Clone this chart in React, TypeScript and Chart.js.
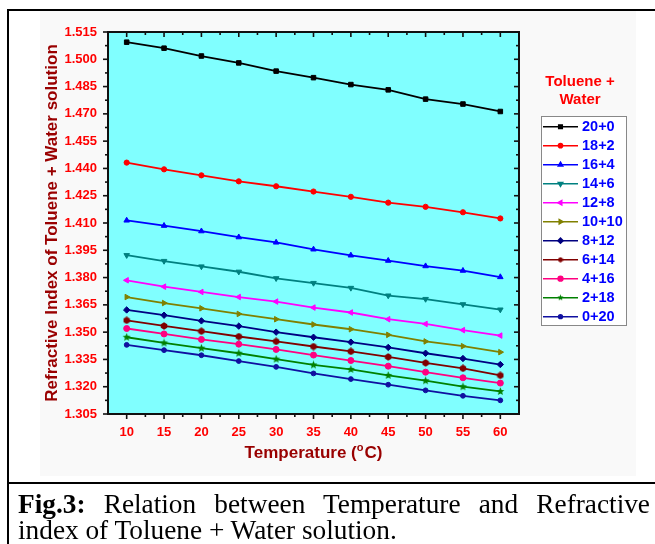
import React, { useEffect, useRef } from 'react';
import { Chart, registerables } from 'chart.js';
import { drawPoint } from 'chart.js/helpers';

Chart.register(...registerables);

// ---------- data ----------
const temperatures = [10, 15, 20, 25, 30, 35, 40, 45, 50, 55, 60];
const seriesNames = ['20+0', '18+2', '16+4', '14+6', '12+8', '10+10', '8+12', '6+14', '4+16', '2+18', '0+20'];

const ri_20_0 = [1.5094, 1.5061, 1.5018, 1.4980, 1.4935, 1.4899, 1.4861, 1.4832, 1.4781, 1.4754, 1.4713];
const ri_18_2 = [1.4432, 1.4395, 1.4362, 1.4329, 1.4302, 1.4273, 1.4244, 1.4212, 1.4189, 1.4159, 1.4125];
const ri_16_4 = [1.4114, 1.4085, 1.4055, 1.4022, 1.3993, 1.3955, 1.3922, 1.3893, 1.3863, 1.3838, 1.3803];
const ri_14_6 = [1.3923, 1.3891, 1.3861, 1.3832, 1.3796, 1.3770, 1.3743, 1.3701, 1.3682, 1.3653, 1.3624];
const ri_12_8 = [1.3785, 1.3750, 1.3721, 1.3693, 1.3668, 1.3635, 1.3608, 1.3571, 1.3545, 1.3511, 1.3481];
const ri_10_10 = [1.3693, 1.3660, 1.3631, 1.3600, 1.3571, 1.3542, 1.3516, 1.3485, 1.3449, 1.3423, 1.3390];
const ri_8_12 = [1.3622, 1.3593, 1.3562, 1.3533, 1.3500, 1.3472, 1.3445, 1.3416, 1.3384, 1.3355, 1.3322];
const ri_6_14 = [1.3565, 1.3534, 1.3505, 1.3476, 1.3449, 1.3421, 1.3394, 1.3364, 1.3331, 1.3301, 1.3262];
const ri_4_16 = [1.3520, 1.3490, 1.3460, 1.3434, 1.3405, 1.3374, 1.3344, 1.3313, 1.3280, 1.3249, 1.3220];
const ri_2_18 = [1.3472, 1.3441, 1.3412, 1.3384, 1.3352, 1.3320, 1.3295, 1.3262, 1.3233, 1.3200, 1.3174];
const ri_0_20 = [1.3430, 1.3401, 1.3373, 1.3341, 1.3309, 1.3273, 1.3242, 1.3211, 1.3180, 1.3150, 1.3125];

const seriesValues = [ri_20_0, ri_18_2, ri_16_4, ri_14_6, ri_12_8, ri_10_10, ri_8_12, ri_6_14, ri_4_16, ri_2_18, ri_0_20];

const xTickValues = [10, 15, 20, 25, 30, 35, 40, 45, 50, 55, 60];
const yTickValues = [1.305, 1.32, 1.335, 1.35, 1.365, 1.38, 1.395, 1.41, 1.425, 1.44, 1.455, 1.47, 1.485, 1.5, 1.515];

// ---------- styles ----------
const seriesColors = ['#000000', '#ff0000', '#0000ff', '#008080', '#ff00ff', '#808000', '#000080', '#800000', '#ff0080', '#008000', '#1010a0'];
const markerKinds = ['rect', 'circle', 'triUp', 'triDown', 'triLeft', 'triRight', 'diamond', 'hex', 'circleBig', 'star', 'circleSmall'];

const SANS = '"Liberation Sans", Arial, Helvetica, sans-serif';

function makeShape(color: string, kind: string, size: number) {
  const c = document.createElement('canvas');
  c.width = size;
  c.height = size;
  const g = c.getContext('2d')!;
  g.fillStyle = color;
  const cx = size / 2;
  const r = size / 2 - 0.3;
  g.beginPath();
  if (kind === 'hex') {
    for (let i = 0; i < 6; i++) {
      const a = (Math.PI / 3) * i + Math.PI / 6;
      const px = cx + r * Math.cos(a);
      const py = cx + r * Math.sin(a);
      if (i === 0) g.moveTo(px, py); else g.lineTo(px, py);
    }
  } else {
    for (let i = 0; i < 10; i++) {
      const a = (Math.PI / 5) * i - Math.PI / 2;
      const rr = i % 2 === 0 ? r : r * 0.45;
      const px = cx + rr * Math.cos(a);
      const py = cx + rr * Math.sin(a);
      if (i === 0) g.moveTo(px, py); else g.lineTo(px, py);
    }
  }
  g.closePath();
  g.fill();
  return c;
}

function markerFor(kind: string, color: string, scale: number) {
  switch (kind) {
    case 'rect': return { style: 'rect' as any, r: 3.2 * scale, rot: 0 };
    case 'circle': return { style: 'circle' as any, r: 2.6 * scale, rot: 0 };
    case 'triUp': return { style: 'triangle' as any, r: 3.2 * scale, rot: 0 };
    case 'triDown': return { style: 'triangle' as any, r: 3.2 * scale, rot: 180 };
    case 'triLeft': return { style: 'triangle' as any, r: 3.2 * scale, rot: -90 };
    case 'triRight': return { style: 'triangle' as any, r: 3.2 * scale, rot: 90 };
    case 'diamond': return { style: 'rectRot' as any, r: 3.2 * scale, rot: 0 };
    case 'hex': return { style: makeShape(color, 'hex', Math.round(8 * scale)) as any, r: 3 * scale, rot: 0 };
    case 'circleBig': return { style: 'circle' as any, r: 3 * scale, rot: 0 };
    case 'star': return { style: makeShape(color, 'star', Math.round(9 * scale)) as any, r: 3 * scale, rot: 0 };
    default: return { style: 'circle' as any, r: 2.4 * scale, rot: 0 };
  }
}

export default function App() {
  const canvasRef = useRef<HTMLCanvasElement | null>(null);

  useEffect(() => {
    document.body.style.margin = '0';
    const canvas = canvasRef.current!;

    const datasets = seriesNames.map((name, i) => {
      const m = markerFor(markerKinds[i], seriesColors[i], 1);
      return {
        label: name,
        data: temperatures.map((t, j) => ({ x: t, y: seriesValues[i][j] })),
        borderColor: seriesColors[i],
        backgroundColor: seriesColors[i],
        borderWidth: 1.8,
        pointStyle: m.style,
        pointRadius: m.r,
        pointRotation: m.rot,
        pointBorderWidth: 1,
        pointBorderColor: seriesColors[i],
        pointBackgroundColor: seriesColors[i],
        tension: 0,
      };
    });

    const framePlugin = {
      id: 'frame',
      beforeDraw(chart: any) {
        const { ctx, chartArea: a } = chart;
        ctx.save();
        ctx.fillStyle = '#80ffff';
        ctx.fillRect(a.left, a.top, a.right - a.left, a.bottom - a.top);
        ctx.restore();
      },
      afterDraw(chart: any) {
        const { ctx, chartArea: a } = chart;
        const xs = chart.scales.x;
        const ys = chart.scales.y;
        ctx.save();
        // border
        ctx.strokeStyle = '#111';
        ctx.lineWidth = 2;
        ctx.strokeRect(a.left, a.top, a.right - a.left, a.bottom - a.top);
        // ticks
        ctx.lineWidth = 1.6;
        const major = 5;
        const minor = 3;
        const line = (x1: number, y1: number, x2: number, y2: number) => {
          ctx.beginPath();
          ctx.moveTo(x1, y1);
          ctx.lineTo(x2, y2);
          ctx.stroke();
        };
        const xMinor: number[] = [];
        for (let i = 0; i < xTickValues.length - 1; i++) xMinor.push((xTickValues[i] + xTickValues[i + 1]) / 2);
        const yMinor: number[] = [];
        for (let i = 0; i < yTickValues.length - 1; i++) yMinor.push((yTickValues[i] + yTickValues[i + 1]) / 2);
        xTickValues.forEach((v) => {
          const px = xs.getPixelForValue(v);
          line(px, a.bottom, px, a.bottom + major);
          line(px, a.top, px, a.top + major);
        });
        xMinor.forEach((v) => {
          const px = xs.getPixelForValue(v);
          line(px, a.bottom, px, a.bottom + minor);
          line(px, a.top, px, a.top + minor);
        });
        yTickValues.forEach((v) => {
          const py = ys.getPixelForValue(v);
          line(a.left - major, py, a.left, py);
          line(a.right - major, py, a.right, py);
        });
        yMinor.forEach((v) => {
          const py = ys.getPixelForValue(v);
          line(a.left - minor, py, a.left, py);
          line(a.right - minor, py, a.right, py);
        });

        // axis titles
        ctx.fillStyle = '#990000';
        ctx.textBaseline = 'alphabetic';
        ctx.textAlign = 'left';
        const mainFont = `bold 17px ${SANS}`;
        const supFont = `bold 11px ${SANS}`;
        ctx.font = mainFont;
        const p1 = 'Temperature (';
        const p3 = 'C)';
        const w1 = ctx.measureText(p1).width;
        const w3 = ctx.measureText(p3).width;
        ctx.font = supFont;
        const w2 = ctx.measureText('o').width + 1;
        const total = w1 + w2 + w3;
        const tx = (a.left + a.right) / 2 - total / 2;
        const ty = 458;
        ctx.font = mainFont;
        ctx.fillText(p1, tx, ty);
        ctx.font = supFont;
        ctx.fillText('o', tx + w1, ty - 7);
        ctx.font = mainFont;
        ctx.fillText(p3, tx + w1 + w2, ty);

        ctx.save();
        ctx.font = mainFont;
        ctx.textAlign = 'center';
        ctx.textBaseline = 'middle';
        ctx.translate(52, (a.top + a.bottom) / 2);
        ctx.rotate(-Math.PI / 2);
        ctx.fillText('Refractive Index of Toluene + Water solution', 0, 0);
        ctx.restore();

        // legend
        ctx.textAlign = 'center';
        ctx.textBaseline = 'middle';
        ctx.fillStyle = '#ff0000';
        ctx.font = `bold 15px ${SANS}`;
        ctx.fillText('Toluene +', 580, 82);
        ctx.fillText('Water', 580, 100);

        const lx = 541, ly = 116, lw = 85, lh = 209;
        ctx.fillStyle = '#ffffff';
        ctx.fillRect(lx, ly, lw, lh);
        ctx.strokeStyle = '#888888';
        ctx.lineWidth = 1;
        ctx.strokeRect(lx + 0.5, ly + 0.5, lw, lh);

        chart.data.datasets.forEach((ds: any, i: number) => {
          const y = 126.7 + i * 19;
          ctx.strokeStyle = ds.borderColor;
          ctx.fillStyle = ds.borderColor;
          ctx.lineWidth = 1.5;
          line(543, y, 578, y);
          const m = markerFor(markerKinds[i], seriesColors[i], 0.8);
          drawPoint(ctx, { pointStyle: m.style, rotation: m.rot, radius: m.r, borderWidth: 1 } as any, 560.5, y);
          ctx.fillStyle = '#0000ff';
          ctx.font = `bold 14.5px ${SANS}`;
          ctx.textAlign = 'left';
          ctx.textBaseline = 'middle';
          ctx.fillText(ds.label, 582, y + 0.5);
        });
        ctx.restore();
      },
    };

    const chart = new Chart(canvas, {
      type: 'line',
      data: { datasets: datasets as any },
      plugins: [framePlugin],
      options: {
        animation: false,
        responsive: false,
        maintainAspectRatio: false,
        events: [],
        layout: { padding: { left: 48, right: 136, top: 32, bottom: 100 } },
        plugins: { legend: { display: false }, tooltip: { enabled: false } },
        scales: {
          x: {
            type: 'linear',
            min: 7.5,
            max: 62.5,
            afterBuildTicks: (s: any) => { s.ticks = xTickValues.map((value) => ({ value })); },
            afterFit: (s: any) => { s.height = 30; },
            grid: { display: false, drawTicks: false },
            border: { display: false },
            ticks: {
              padding: 11,
              color: '#ff0000',
              font: { family: SANS, size: 13, weight: 'bold' },
              callback: (v: any) => String(v),
              maxRotation: 0,
              autoSkip: false,
            },
          },
          y: {
            type: 'linear',
            min: 1.305,
            max: 1.515,
            afterBuildTicks: (s: any) => { s.ticks = yTickValues.map((value) => ({ value })); },
            afterFit: (s: any) => { s.width = 60; },
            grid: { display: false, drawTicks: false },
            border: { display: false },
            ticks: {
              padding: 11,
              color: '#ff0000',
              font: { family: SANS, size: 13, weight: 'bold' },
              callback: (v: any) => Number(v).toFixed(3),
              autoSkip: false,
            },
          },
        },
      },
    });
    return () => chart.destroy();
  }, []);

  return (
    <div style={{ position: 'relative', width: 655, height: 544, overflow: 'hidden', background: '#ffffff' }}>
      <div style={{ position: 'absolute', left: 40, top: 11, width: 596, height: 465, background: '#f9f9f9' }} />
      <canvas ref={canvasRef} width={655} height={544} style={{ position: 'absolute', left: 0, top: 0, width: 655, height: 544 }} />
      <div style={{ position: 'absolute', left: 7, top: 9, width: 700, height: 600, borderLeft: '2px solid #000', borderTop: '2px solid #000' }} />
      <div style={{ position: 'absolute', left: 7, top: 482, width: 660, height: 2, background: '#000' }} />
      <div style={{ position: 'absolute', left: 18, top: 491, width: 632, fontFamily: '"Liberation Serif", "Times New Roman", serif', fontSize: 27.3, lineHeight: '26px', color: '#000' }}>
        <div style={{ textAlign: 'justify', textAlignLast: 'justify' as any }}>
          <b>Fig.3:</b> Relation between Temperature and Refractive
        </div>
        <div>index of Toluene + Water solution.</div>
      </div>
    </div>
  );
}
